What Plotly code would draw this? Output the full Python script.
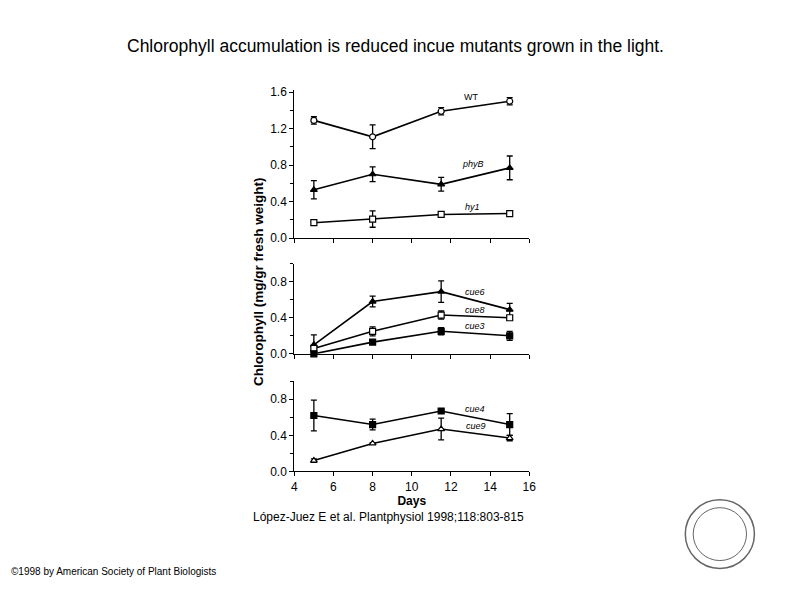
import plotly.graph_objects as go

# ---------------- data ----------------
days = [5, 8, 11.5, 15]

wt = [1.29, 1.11, 1.39, 1.50]
wt_err = [0.04, 0.13, 0.04, 0.04]
phyb = [0.53, 0.70, 0.59, 0.77]
phyb_err = [0.10, 0.08, 0.075, 0.13]
hy1 = [0.17, 0.21, 0.26, 0.27]
hy1_err = [0.0, 0.09, 0.0, 0.0]

cue6 = [0.10, 0.58, 0.69, 0.49]
cue6_err = [0.11, 0.06, 0.12, 0.07]
cue8 = [0.06, 0.25, 0.43, 0.40]
cue8_err = [0.02, 0.05, 0.045, 0.02]
cue3 = [0.0, 0.13, 0.25, 0.20]
cue3_err = [0.0, 0.02, 0.04, 0.05]

cue4 = [0.62, 0.52, 0.67, 0.52]
cue4_err = [0.17, 0.06, 0.01, 0.12]
cue9 = [0.12, 0.31, 0.47, 0.37]
cue9_err = [0.02, 0.01, 0.12, 0.03]

x_ticks = [4, 6, 8, 10, 12, 14, 16]
y_ticks_top = [0.0, 0.4, 0.8, 1.2, 1.6]
y_ticks_low = [0.0, 0.4, 0.8]

title_text = "Chlorophyll accumulation is reduced incue mutants grown in the light."
citation = "López-Juez E et al. Plantphysiol 1998;118:803-815"
copyright_text = "©1998 by American Society of Plant Biologists"
y_title = "Chlorophyll (mg/gr fresh weight)"

W, H = 794, 595
FONT = "Liberation Sans, Arial, sans-serif"

fig = go.Figure()


def add_series(y, err, symbol, filled, xa, ya):
    fig.add_trace(go.Scatter(
        x=days, y=y, mode="lines+markers",
        line=dict(color="black", width=1.6),
        marker=dict(symbol=symbol, size=6, color="black" if filled else "white",
                    line=dict(color="black", width=1.2)),
        error_y=dict(type="data", array=err, visible=True, color="black",
                     thickness=1.3, width=3),
        xaxis=xa, yaxis=ya, showlegend=False, cliponaxis=False,
    ))


add_series(wt, wt_err, "circle", False, "x", "y")
add_series(phyb, phyb_err, "triangle-up", True, "x", "y")
add_series(hy1, hy1_err, "square", False, "x", "y")

add_series(cue6, cue6_err, "triangle-up", True, "x2", "y2")
add_series(cue8, cue8_err, "square", False, "x2", "y2")
add_series(cue3, cue3_err, "square", True, "x2", "y2")

add_series(cue4, cue4_err, "square", True, "x3", "y3")
add_series(cue9, cue9_err, "triangle-up", False, "x3", "y3")

xdom = [295 / W, 533 / W]


def ydom(top_px, bottom_px):
    return [1 - bottom_px / H, 1 - top_px / H]


axis_common = dict(showline=True, linecolor="black", linewidth=1, showgrid=False,
                   zeroline=False, ticks="outside", tickcolor="black", ticklen=4,
                   tickwidth=1, tickfont=dict(family=FONT, size=12, color="black"))

xa_common = dict(axis_common, domain=xdom, range=[4, 16], tickvals=x_ticks)
minor_y = dict(dtick=0.2, tick0=0, ticks="outside", ticklen=3, tickcolor="black")

fig.update_layout(
    width=W, height=H, margin=dict(l=0, r=0, t=0, b=0),
    paper_bgcolor="white", plot_bgcolor="white",
    font=dict(family=FONT, color="black"),
    xaxis=dict(xa_common, anchor="y", showticklabels=False),
    xaxis2=dict(xa_common, anchor="y2", showticklabels=False),
    xaxis3=dict(xa_common, anchor="y3", showticklabels=True,
                title=dict(text="<b>Days</b>", font=dict(family=FONT, size=12), standoff=3)),
    yaxis=dict(axis_common, domain=ydom(87, 238), range=[0, 1.62], anchor="x",
               tickvals=y_ticks_top, tickformat=".1f", minor=minor_y),
    yaxis2=dict(axis_common, domain=ydom(264, 356), range=[0, 1.0], anchor="x2",
                tickvals=y_ticks_low, tickformat=".1f", minor=minor_y),
    yaxis3=dict(axis_common, domain=ydom(384, 476), range=[0, 1.0], anchor="x3",
                tickvals=y_ticks_low, tickformat=".1f", minor=minor_y),
)

ann = []
labels = [
    ("WT", 474, 94),
    ("phyB", 476, 162),
    ("hy1", 475, 206),
    ("cue6", 478, 293),
    ("cue8", 478, 311),
    ("cue3", 478, 328),
    ("cue4", 478, 412),
    ("cue9", 479, 430),
]
for txt, px, py in labels:
    ann.append(dict(text=txt if txt == "WT" else "<i>" + txt + "</i>",
                    x=px / W, y=1 - py / H, xref="paper", yref="paper",
                    showarrow=False, font=dict(family=FONT, size=9, color="black"),
                    xanchor="center", yanchor="middle"))

ann.append(dict(text=title_text, x=397 / W, y=1 - 42 / H, xref="paper", yref="paper",
                showarrow=False, font=dict(family=FONT, size=17.5, color="black"),
                xanchor="center", yanchor="middle"))
ann.append(dict(text=citation, x=390 / W, y=1 - 523 / H, xref="paper", yref="paper",
                showarrow=False, font=dict(family=FONT, size=12, color="black"),
                xanchor="center", yanchor="middle"))
ann.append(dict(text=copyright_text, x=6 / W, y=1 - 578 / H, xref="paper", yref="paper",
                showarrow=False, font=dict(family=FONT, size=10, color="black"),
                xanchor="left", yanchor="middle"))
ann.append(dict(text="<b>" + y_title + "</b>", x=259 / W, y=1 - 282 / H, xref="paper",
                yref="paper", showarrow=False, textangle=-90,
                font=dict(family=FONT, size=13.5, color="black"),
                xanchor="center", yanchor="middle"))
fig.update_layout(annotations=ann)

# decorative seal (bottom right)
cx, cy = 726, 540
shapes = []
for r, w in [(35, 1.5), (27, 1)]:
    shapes.append(dict(type="circle", xref="paper", yref="paper",
                       x0=(cx - r) / W, x1=(cx + r) / W,
                       y0=1 - (cy + r) / H, y1=1 - (cy - r) / H,
                       line=dict(color="#666", width=w)))
fig.update_layout(shapes=shapes)

fig.write_html("out.html", config={"displayModeBar": False},
               post_script="document.body.style.margin='0';document.body.style.overflow='hidden';")
